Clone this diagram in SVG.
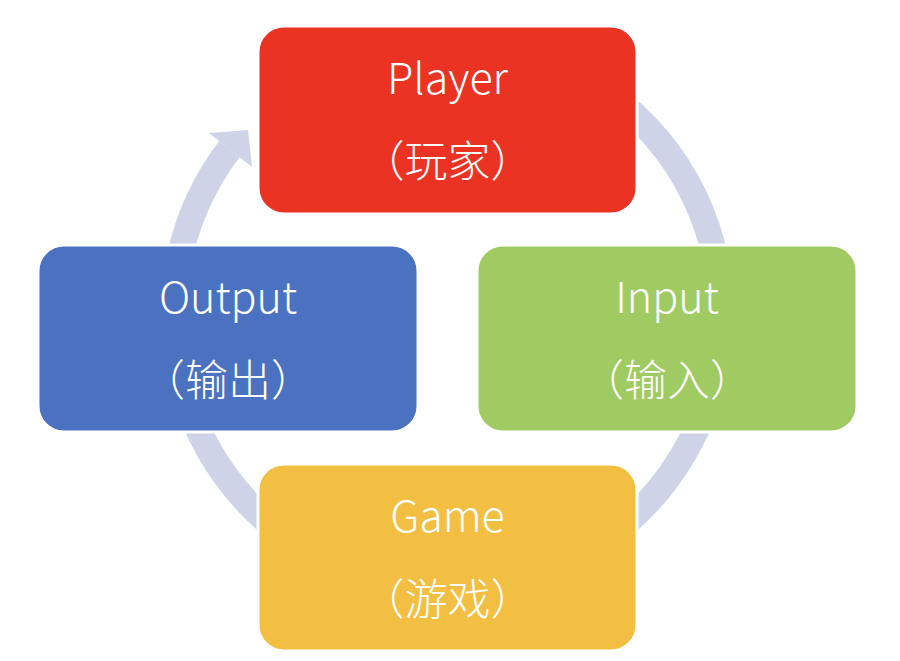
<svg xmlns="http://www.w3.org/2000/svg" width="900" height="661" viewBox="0 0 900 661">
<style>
.box{stroke:#ffffff;stroke-width:3}
.t1{font-family:"Noto Sans CJK SC","Noto Sans",sans-serif;font-size:43px;fill:#ffffff;text-anchor:middle;font-weight:300}
.t2{font-family:"Noto Sans CJK SC","Noto Sans",sans-serif;font-size:43px;fill:#ffffff;text-anchor:middle;font-weight:300}
.ring{fill:none;stroke:#CED3E8;stroke-width:26}
</style>
<rect width="900" height="661" fill="#ffffff"/>
<g id="connectors">
<path class="ring" d="M400.3 45.2 A274 274 0 1 1 229.5 149"/>
<polygon points="209,133 248,130 252,167" fill="#CED3E8"/>
</g>
<g id="player">
<rect class="box" x="258" y="26" width="379" height="188" rx="26" fill="#EA3323"/>
<text class="t1" x="447.5" y="94">Player</text>
<text class="t2" x="447.5" y="177">（玩家）</text>
</g>
<g id="output">
<rect class="box" x="38" y="245" width="380" height="187" rx="26" fill="#4A72C0"/>
<text class="t1" x="228" y="313">Output</text>
<text class="t2" x="228" y="396">（输出）</text>
</g>
<g id="input">
<rect class="box" x="477" y="245" width="380" height="187" rx="26" fill="#A0CA62"/>
<text class="t1" x="667" y="313">Input</text>
<text class="t2" x="667" y="396">（输入）</text>
</g>
<g id="game">
<rect class="box" x="258" y="464" width="379" height="187" rx="26" fill="#F3BF43"/>
<text class="t1" x="447.5" y="532">Game</text>
<text class="t2" x="447.5" y="615">（游戏）</text>
</g>
</svg>
